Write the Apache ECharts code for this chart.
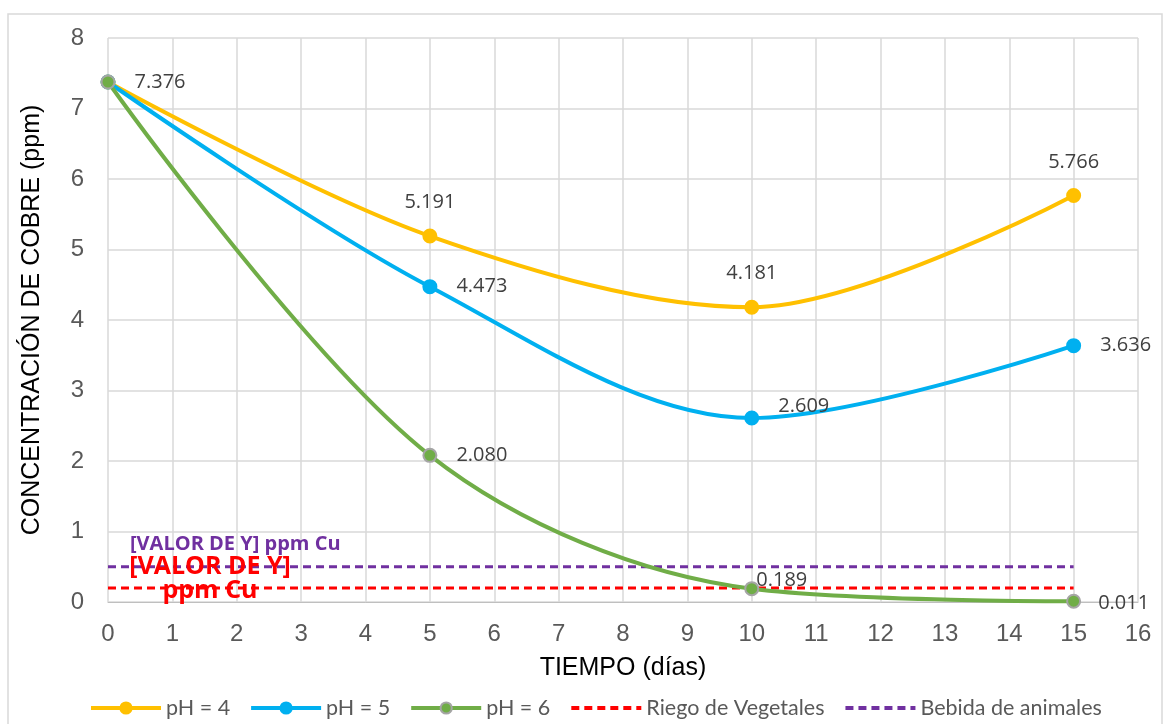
<!DOCTYPE html>
<html><head><meta charset="utf-8">
<script src="https://cdn.jsdelivr.net/npm/echarts@6/dist/echarts.min.js"></script>
<style>html,body{margin:0;padding:0;background:#fff}#c{width:1170px;height:724px}</style>
</head><body><div id="c"></div>
<script>
const days = [0, 5, 10, 15];
const ph4 = [7.376, 5.191, 4.181, 5.766];
const ph5 = [7.376, 4.473, 2.609, 3.636];
const ph6 = [7.376, 2.080, 0.189, 0.011];
const riegoLimit = 0.2;
const bebidaLimit = 0.5;
const seriesNames = ['pH = 4', 'pH = 5', 'pH = 6', 'Riego de Vegetales', 'Bebida de animales'];

const chart = echarts.init(document.getElementById('c'));
const fmt = p => p.value[1].toFixed(3);
function pts(arr){ return days.map((d,i)=>[d,arr[i]]); }
const lblBase = {show:true, fontSize:20, color:'#404040', fontFamily:'"Open Sans", sans-serif', formatter: fmt};

function ser(name, arr, color, border, labelCfg, perPoint){
  return {
    name, type:'line', smooth:0.33, data: pts(arr).map((v,i)=>{
      const o = {value:v};
      if(perPoint[i]) o.label = perPoint[i];
      return o;
    }),
    symbol:'circle', symbolSize:13,
    lineStyle:{width:4, color},
    itemStyle:{color, borderColor:border, borderWidth:2},
    label: Object.assign({}, lblBase, labelCfg),
    z: 3
  };
}
function hline(name, y, color, lbl){
  return {
    name, type:'line', symbol:'none', data: days.map(d=>[d,y]),
    lineStyle:{width:3, color, type:[8,5]},
    itemStyle:{color},
    z: 2,
    markPoint:{symbol:'circle', symbolSize:0, silent:true, data:[{coord:[0,y], label:lbl}]}
  };
}

chart.setOption({
  animation:false,
  backgroundColor:'#fff',
  textStyle:{fontFamily:'"Liberation Sans", Arial, sans-serif'},
  graphic:[{type:'rect', shape:{x:8, y:14, width:1154, height:712}, style:{fill:'none', stroke:'#d9d9d9', lineWidth:1.5}, silent:true}],
  grid:{left:108, right:32, top:38, bottom:122},
  legend:{
    data: seriesNames.map((n,i)=> i>=3 ? {name:n, itemStyle:{opacity:0}} : {name:n}),
    top:692, left:84, itemWidth:70, itemHeight:14, itemGap:19,
    lineStyle:{width:4},
    textStyle:{fontSize:21.5, color:'#595959', fontFamily:'Lato, sans-serif'}
  },
  xAxis:{
    type:'value', min:0, max:16, interval:1,
    name:'TIEMPO (días)', nameLocation:'middle', nameGap:54,
    nameTextStyle:{fontSize:25, color:'#000'},
    axisLine:{show:true, lineStyle:{color:'#bfbfbf'}},
    axisTick:{show:false},
    axisLabel:{fontSize:24, color:'#595959', margin:20},
    splitLine:{show:true, lineStyle:{color:'#d9d9d9', width:1.5}}
  },
  yAxis:{
    type:'value', min:0, max:8, interval:1,
    name:'CONCENTRACIÓN DE COBRE (ppm)', nameLocation:'middle', nameGap:63,
    nameTextStyle:{fontSize:25, color:'#000'},
    axisLine:{show:false}, axisTick:{show:false},
    axisLabel:{fontSize:24, color:'#595959', margin:24},
    splitLine:{show:true, lineStyle:{color:'#d9d9d9', width:1.5}}
  },
  series:[
    ser('pH = 4', ph4, '#FFC000', '#FFC000', {position:'top', distance:16}, [{show:false}]),
    ser('pH = 5', ph5, '#00B0F0', '#00B0F0', {position:'right', distance:19}, [{show:false}, null, {offset:[0,-12]}]),
    ser('pH = 6', ph6, '#70AD47', '#A5A5A5', {position:'right', distance:19}, [{show:true}, null, {offset:[-22,-8]}, {offset:[-2,2]}]),
    hline('Riego de Vegetales', riegoLimit, '#FF0000', {show:true, formatter:'[VALOR DE Y]\nppm Cu', color:'#FF0000', fontWeight:'bold', fontSize:25, lineHeight:24, align:'center', fontFamily:'"Open Sans", sans-serif', position:'inside', offset:[102,-9]}),
    hline('Bebida de animales', bebidaLimit, '#7030A0', {show:true, formatter:'[VALOR DE Y] ppm Cu', color:'#7030A0', fontWeight:'bold', fontSize:20, align:'left', fontFamily:'"Open Sans", sans-serif', position:'inside', offset:[22,-22]})
  ]
});
</script></body></html>
